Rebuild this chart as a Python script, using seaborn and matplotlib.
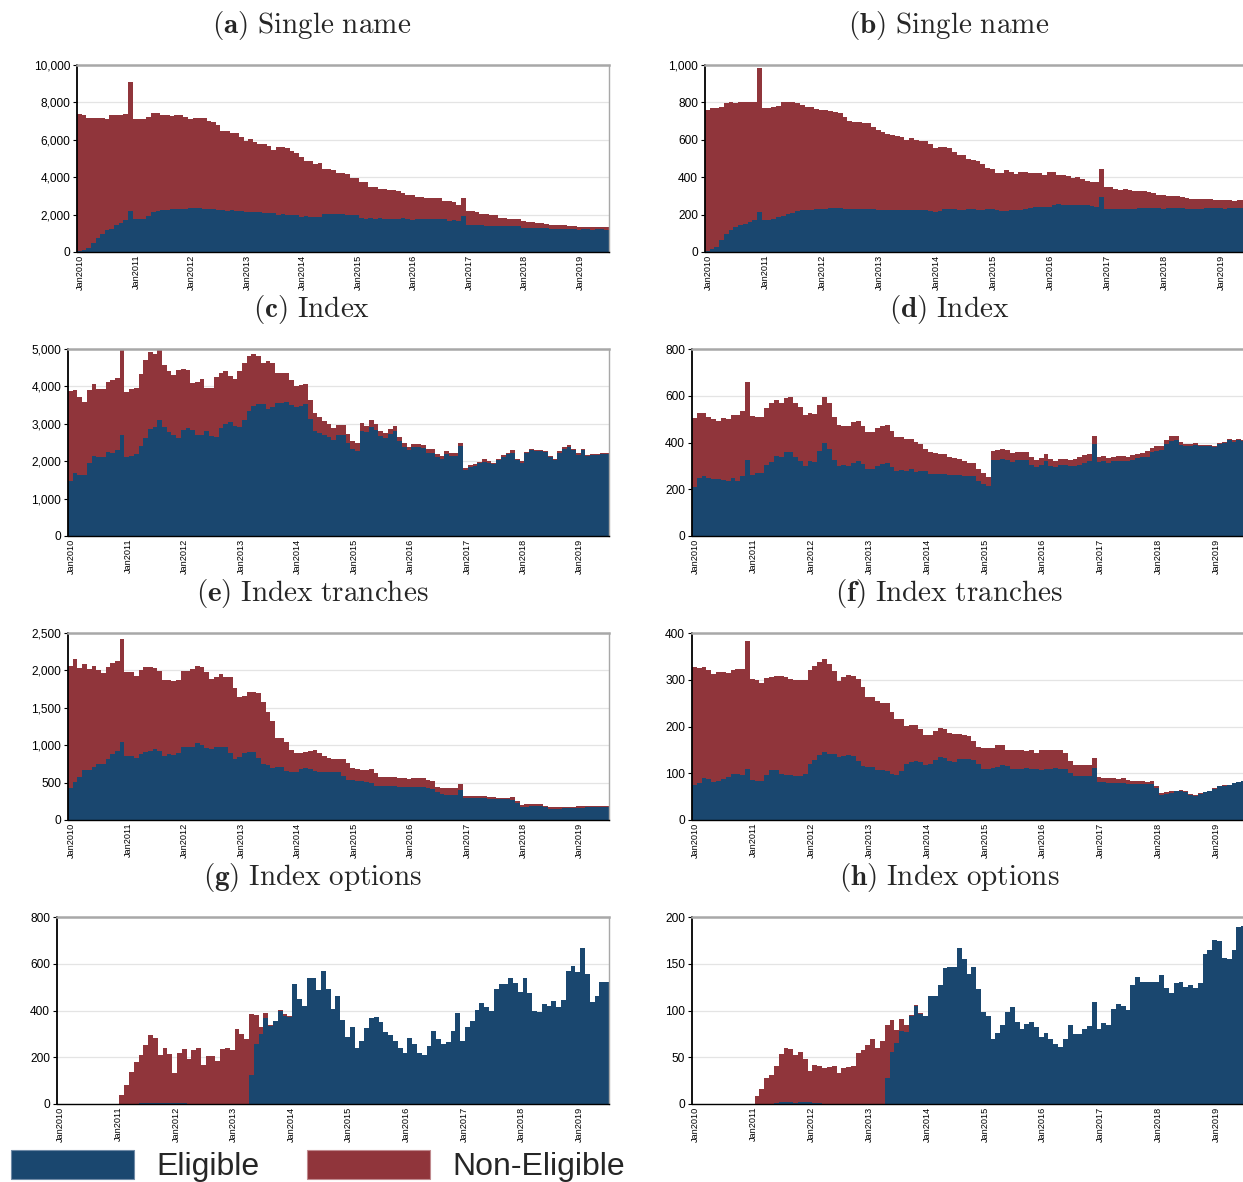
import matplotlib
matplotlib.use("Agg")
import matplotlib.pyplot as plt
import numpy as np
import pandas as pd
import seaborn as sns
from matplotlib.patches import Patch
from matplotlib.ticker import FuncFormatter, MultipleLocator

sns.set_theme(style="white")
plt.rcParams['font.family'] = ['Liberation Sans', 'DejaVu Sans']
plt.rcParams['mathtext.fontset'] = 'cm'

BLUE = '#1a476f'
RED = '#90353b'

months = list(pd.date_range('2010-01-01', periods=115, freq='MS').strftime('%b%Y'))
tick_labels = ['Jan2010', 'Jan2011', 'Jan2012', 'Jan2013', 'Jan2014',
               'Jan2015', 'Jan2016', 'Jan2017', 'Jan2018', 'Jan2019']

# (a) Single name, number of contracts
a_total = [
    7357, 7320, 7180, 7160, 7160, 7140, 7090, 7320, 7320, 7340, 7390, 9100,
    7100, 7100, 7100, 7210, 7430, 7430, 7340, 7340, 7290, 7320, 7320, 7210,
    7090, 7180, 7180, 7140, 7000, 6960, 6770, 6480, 6490, 6340, 6340, 6125,
    5930, 6020, 5890, 5750, 5750, 5680, 5450, 5625, 5600, 5540, 5390, 5300,
    5090, 4860, 4860, 4680, 4770, 4430, 4430, 4410, 4200, 4200, 4180, 3980,
    3980, 3750, 3750, 3460, 3500, 3390, 3390, 3340, 3340, 3250, 3140, 3070,
    3070, 2950, 2950, 2890, 2890, 2875, 2875, 2750, 2710, 2660, 2520, 2875,
    2200, 2200, 2140, 2040, 2040, 1960, 1960, 1840, 1840, 1790, 1770, 1770,
    1660, 1625, 1625, 1550, 1550, 1480, 1450, 1450, 1450, 1450, 1410, 1410,
    1360, 1360, 1360, 1350, 1350, 1340, 1340]
a_elig = [
    35, 90, 215, 480, 770, 980, 1160, 1250, 1430, 1550, 1730, 2200,
    1750, 1750, 1760, 1910, 2125, 2180, 2250, 2270, 2280, 2300, 2310, 2320,
    2330, 2340, 2330, 2320, 2300, 2290, 2220, 2230, 2210, 2220, 2210, 2200,
    2140, 2150, 2130, 2140, 2070, 2080, 2060, 2000, 2010, 2000, 1990, 2000,
    1890, 1900, 1880, 1890, 1890, 2020, 2030, 2010, 2020, 2010, 2000, 1960,
    1960, 1840, 1790, 1800, 1780, 1800, 1790, 1790, 1780, 1790, 1800, 1790,
    1710, 1770, 1760, 1770, 1780, 1770, 1760, 1770, 1680, 1690, 1680, 1910,
    1450, 1460, 1440, 1450, 1390, 1400, 1390, 1375, 1380, 1370, 1375, 1370,
    1300, 1310, 1300, 1270, 1280, 1270, 1230, 1240, 1230, 1230, 1220, 1230,
    1200, 1210, 1210, 1200, 1210, 1210, 1200]

# (b) Single name
b_total = [
    760, 768, 771, 777, 795, 804, 798, 800, 800, 800, 804, 982,
    771, 771, 773, 782, 800, 804, 800, 798, 786, 773, 773, 764,
    759, 757, 753, 748, 741, 723, 698, 696, 696, 688, 688, 670,
    652, 640, 630, 625, 622, 616, 600, 607, 598, 595, 595, 575,
    557, 563, 563, 555, 536, 521, 520, 500, 491, 487, 468, 450,
    446, 425, 425, 436, 429, 418, 429, 429, 425, 423, 423, 414,
    427, 427, 414, 411, 407, 398, 400, 389, 379, 373, 375, 446,
    345, 345, 336, 333, 336, 330, 327, 327, 325, 320, 317, 305,
    305, 302, 300, 297, 293, 290, 285, 283, 283, 283, 282, 280,
    278, 276, 276, 275, 277, 276, 275]
b_elig = [
    4, 18, 27, 62, 95, 120, 134, 143, 148, 161, 170, 214,
    170, 170, 175, 185, 195, 203, 210, 220, 224, 225, 226, 228,
    228, 232, 235, 237, 236, 232, 228, 230, 230, 232, 230, 228,
    226, 226, 225, 224, 225, 224, 226, 223, 222, 224, 222, 220,
    214, 218, 228, 232, 230, 226, 225, 230, 228, 226, 226, 228,
    228, 222, 218, 220, 224, 222, 226, 232, 236, 238, 238, 240,
    242, 250, 255, 252, 250, 250, 252, 252, 250, 245, 243, 295,
    228, 231, 228, 228, 232, 232, 232, 235, 236, 236, 237, 234,
    232, 234, 236, 234, 234, 232, 232, 231, 232, 234, 233, 234,
    234, 232, 234, 234, 234, 236, 238]

# (c) Index
c_total = [
    3885, 3910, 3715, 3580, 3910, 4070, 3930, 3930, 4110, 4180, 4220, 5000,
    3840, 3930, 3970, 4340, 4700, 4930, 4875, 4980, 4580, 4400, 4310, 4450,
    4465, 4450, 4100, 4110, 4200, 3960, 3950, 4250, 4360, 4420, 4290, 4200,
    4420, 4630, 4820, 4870, 4820, 4630, 4670, 4630, 4360, 4360, 4360, 4180,
    4000, 4050, 4070, 3640, 3300, 3180, 3080, 2990, 2900, 2960, 2960, 2730,
    2530, 2480, 3020, 2950, 3110, 3000, 2820, 2750, 2870, 2930, 2640, 2480,
    2375, 2455, 2455, 2440, 2320, 2320, 2200, 2140, 2280, 2230, 2215, 2500,
    1830, 1890, 1930, 1980, 2050, 2000, 1950, 2060, 2170, 2230, 2290, 2060,
    2000, 2240, 2330, 2300, 2300, 2280, 2150, 2060, 2280, 2370, 2420, 2330,
    2215, 2330, 2170, 2200, 2200, 2215, 2210]
c_elig = [
    1475, 1680, 1635, 1635, 1950, 2145, 2125, 2125, 2240, 2230, 2300, 2700,
    2100, 2150, 2200, 2410, 2630, 2860, 2910, 3090, 2910, 2770, 2690, 2620,
    2840, 2880, 2840, 2690, 2690, 2800, 2680, 2660, 2880, 3000, 3060, 2950,
    2910, 3110, 3330, 3465, 3535, 3535, 3400, 3450, 3555, 3555, 3580, 3500,
    3440, 3480, 3535, 3135, 2820, 2750, 2705, 2640, 2570, 2690, 2690, 2500,
    2320, 2260, 2820, 2770, 2910, 2840, 2680, 2630, 2730, 2820, 2530, 2375,
    2290, 2375, 2375, 2350, 2230, 2230, 2110, 2050, 2190, 2150, 2150, 2410,
    1770, 1840, 1880, 1950, 1990, 1960, 1930, 2020, 2125, 2190, 2215, 2020,
    1960, 2215, 2290, 2260, 2260, 2240, 2125, 2040, 2230, 2320, 2375, 2300,
    2170, 2300, 2140, 2170, 2170, 2190, 2190]

# (d) Index
d_total = [
    504, 526, 526, 507, 500, 494, 503, 500, 517, 516, 533, 657,
    514, 511, 510, 549, 569, 583, 569, 590, 594, 571, 551, 519,
    526, 520, 560, 594, 569, 509, 474, 471, 471, 486, 494, 471,
    443, 447, 461, 471, 474, 451, 423, 423, 417, 417, 404, 394,
    371, 361, 354, 352, 352, 340, 333, 329, 319, 312, 312, 287,
    270, 252, 365, 366, 372, 367, 357, 360, 360, 360, 340, 326,
    333, 350, 329, 322, 330, 330, 326, 330, 336, 348, 352, 428,
    338, 342, 333, 340, 343, 343, 340, 348, 352, 355, 362, 376,
    383, 386, 411, 426, 428, 401, 394, 393, 396, 390, 391, 390,
    383, 397, 404, 414, 409, 414, 412]
d_elig = [
    210, 247, 257, 246, 243, 243, 240, 234, 250, 234, 256, 326,
    260, 270, 270, 303, 317, 341, 337, 359, 360, 337, 320, 301,
    320, 317, 363, 396, 371, 323, 301, 304, 301, 311, 319, 309,
    286, 287, 300, 310, 313, 297, 279, 283, 279, 286, 274, 276,
    276, 266, 264, 267, 267, 262, 262, 262, 258, 255, 258, 237,
    223, 213, 323, 323, 329, 326, 316, 323, 323, 323, 305, 295,
    302, 319, 298, 294, 302, 302, 298, 298, 305, 312, 322, 394,
    316, 319, 312, 319, 322, 322, 322, 326, 333, 338, 340, 359,
    365, 367, 393, 407, 409, 390, 387, 386, 390, 383, 387, 387,
    380, 394, 400, 411, 404, 411, 408]

# (e) Index tranches
e_total = [
    2054, 2156, 2031, 2089, 2022, 2054, 2009, 1964, 2040, 2098, 2121, 2424,
    1973, 1973, 1929, 2000, 2040, 2045, 2031, 1991, 1866, 1875, 1853, 1875,
    1987, 1987, 2018, 2063, 2040, 1973, 1888, 1906, 1951, 1906, 1906, 1763,
    1638, 1661, 1710, 1710, 1696, 1576, 1442, 1330, 1094, 1094, 1049, 938,
    902, 893, 915, 924, 938, 893, 857, 826, 817, 817, 813, 759,
    692, 683, 670, 670, 679, 625, 571, 571, 571, 571, 567, 558,
    545, 558, 558, 558, 536, 522, 446, 433, 424, 424, 424, 478,
    326, 326, 326, 321, 326, 304, 304, 295, 299, 295, 304, 254,
    201, 210, 210, 214, 214, 192, 170, 170, 179, 179, 179, 179,
    188, 188, 188, 192, 192, 192, 192]
e_elig = [
    424, 504, 571, 670, 670, 714, 746, 746, 817, 879, 924, 1040,
    862, 862, 826, 879, 906, 924, 951, 929, 857, 879, 871, 893,
    982, 982, 982, 1027, 1004, 960, 951, 982, 982, 982, 893, 813,
    848, 893, 915, 906, 835, 746, 737, 701, 714, 705, 656, 643,
    643, 683, 692, 683, 661, 638, 638, 638, 638, 638, 589, 536,
    536, 522, 522, 513, 491, 455, 455, 455, 455, 451, 446, 446,
    438, 446, 446, 446, 433, 415, 371, 344, 335, 335, 335, 402,
    290, 290, 290, 290, 290, 277, 277, 277, 277, 277, 268, 232,
    179, 179, 183, 183, 183, 170, 147, 147, 152, 156, 161, 165,
    165, 165, 170, 170, 174, 174, 174]

# (f) Index tranches
f_total = [
    327, 326, 327, 320, 313, 316, 316, 314, 320, 323, 324, 382,
    302, 299, 293, 304, 306, 309, 309, 306, 302, 300, 299, 299,
    320, 330, 337, 344, 334, 319, 298, 305, 310, 307, 301, 284,
    263, 263, 254, 251, 250, 230, 216, 216, 202, 203, 203, 194,
    182, 182, 191, 196, 194, 186, 184, 184, 182, 180, 170, 156,
    155, 153, 154, 161, 160, 150, 149, 150, 150, 148, 149, 143,
    149, 149, 149, 149, 149, 143, 127, 118, 118, 117, 117, 132,
    91, 90, 89, 89, 88, 89, 86, 83, 83, 83, 82, 84,
    73, 58, 59, 61, 63, 64, 62, 56, 54, 57, 60, 63,
    68, 73, 74, 75, 80, 82, 84]
f_elig = [
    75, 80, 89, 87, 82, 84, 88, 91, 98, 99, 96, 109,
    86, 84, 84, 96, 107, 107, 99, 96, 96, 95, 95, 99,
    120, 128, 140, 146, 142, 141, 134, 137, 138, 136, 126, 116,
    113, 113, 106, 106, 104, 98, 97, 104, 119, 125, 127, 125,
    118, 120, 128, 134, 133, 126, 125, 130, 131, 130, 128, 120,
    110, 110, 112, 113, 118, 115, 110, 110, 110, 112, 110, 109,
    106, 110, 110, 111, 110, 110, 101, 95, 95, 95, 94, 112,
    82, 81, 80, 80, 80, 79, 77, 77, 77, 77, 76, 76,
    68, 54, 56, 58, 61, 62, 60, 54, 52, 56, 59, 62,
    67, 72, 73, 74, 79, 81, 83]

# (g) Index options
g_total = [
    0, 0, 0, 0, 0, 0, 0, 0, 0, 0, 0, 0,
    0, 38, 81, 138, 180, 208, 251, 294, 282, 211, 241, 216,
    133, 218, 237, 191, 230, 240, 166, 204, 204, 183, 237, 241,
    233, 322, 301, 279, 386, 382, 329, 390, 340, 357, 404, 383,
    378, 514, 449, 421, 540, 539, 486, 571, 490, 406, 464, 361,
    286, 329, 240, 271, 327, 367, 371, 350, 306, 297, 271, 240,
    217, 281, 257, 220, 210, 250, 313, 280, 257, 264, 314, 389,
    269, 331, 354, 403, 433, 414, 396, 493, 514, 513, 539, 519,
    481, 539, 476, 397, 393, 426, 419, 439, 414, 447, 571, 589,
    563, 667, 557, 436, 460, 520, 520]
g_elig = [
    0, 0, 0, 0, 0, 0, 0, 0, 0, 0, 0, 0,
    0, 0, 0, 0, 0, 3, 4, 3, 3, 3, 4, 4,
    4, 4, 3, 0, 0, 0, 0, 0, 0, 0, 0, 0,
    0, 0, 0, 0, 123, 255, 301, 366, 333, 357, 400, 376,
    372, 514, 449, 421, 540, 539, 486, 571, 490, 406, 464, 361,
    286, 329, 240, 271, 327, 367, 371, 350, 306, 297, 271, 240,
    217, 281, 257, 220, 210, 250, 313, 280, 257, 264, 314, 389,
    269, 331, 354, 403, 433, 414, 396, 493, 514, 513, 539, 519,
    481, 539, 476, 397, 393, 426, 419, 439, 414, 447, 571, 589,
    563, 667, 557, 436, 460, 520, 520]

# (h) Index options
h_total = [
    0, 0, 0, 0, 0, 0, 0, 0, 0, 0, 0, 0,
    0, 9, 16, 28, 31, 41, 53, 60, 59, 52, 56, 48,
    35, 42, 41, 38, 40, 41, 33, 39, 40, 41, 55, 58,
    63, 70, 60, 67, 85, 90, 79, 91, 84, 95, 106, 97,
    94, 116, 116, 127, 145, 147, 146, 167, 155, 139, 147, 123,
    98, 94, 70, 76, 85, 98, 104, 88, 80, 86, 88, 82,
    72, 76, 69, 64, 61, 70, 84, 75, 75, 80, 83, 109,
    80, 87, 85, 102, 107, 105, 101, 127, 136, 130, 131, 130,
    130, 138, 124, 119, 129, 130, 125, 127, 124, 129, 160, 165,
    175, 174, 156, 155, 165, 189, 190]
h_elig = [
    0, 0, 0, 0, 0, 0, 0, 0, 0, 0, 0, 0,
    0, 0, 0, 0, 0, 1, 2, 2, 2, 1, 2, 2,
    2, 1, 1, 0, 0, 0, 0, 0, 0, 0, 0, 0,
    0, 0, 0, 0, 28, 56, 65, 78, 77, 94, 105, 96,
    94, 116, 116, 127, 145, 147, 146, 167, 155, 139, 147, 123,
    98, 94, 70, 76, 85, 98, 104, 88, 80, 86, 88, 82,
    72, 76, 69, 64, 61, 70, 84, 75, 75, 80, 83, 109,
    80, 87, 85, 102, 107, 105, 101, 127, 136, 130, 131, 130,
    130, 138, 124, 119, 129, 130, 125, 127, 124, 129, 160, 165,
    175, 174, 156, 155, 165, 189, 190]

titles = [r"$\mathbf{(a)}\ \mathrm{Single\ name}$", r"$\mathbf{(b)}\ \mathrm{Single\ name}$",
          r"$\mathbf{(c)}\ \mathrm{Index}$", r"$\mathbf{(d)}\ \mathrm{Index}$",
          r"$\mathbf{(e)}\ \mathrm{Index\ tranches}$", r"$\mathbf{(f)}\ \mathrm{Index\ tranches}$",
          r"$\mathbf{(g)}\ \mathrm{Index\ options}$", r"$\mathbf{(h)}\ \mathrm{Index\ options}$"]

panels = [
    (a_total, a_elig, 10000, 2000),
    (b_total, b_elig, 1000, 200),
    (c_total, c_elig, 5000, 1000),
    (d_total, d_elig, 800, 200),
    (e_total, e_elig, 2500, 500),
    (f_total, f_elig, 400, 100),
    (g_total, g_elig, 800, 200),
    (h_total, h_elig, 200, 50),
]

for t, e, _, _ in panels:
    assert len(t) == 115 and len(e) == 115, (len(t), len(e))

W, H = 1243, 1182
fig = plt.figure(figsize=(W / 100, H / 100), dpi=100)

# pixel boxes: left, top, width, height
boxes = [
    (77, 65, 532, 187), (705, 65, 546, 187),
    (68, 349, 541, 187), (692, 349, 554, 187),
    (68, 633, 541, 187), (692, 633, 554, 187),
    (57, 917, 552, 187), (692, 917, 554, 187),
]
title_y = [25, 25, 309, 309, 593, 593, 877, 877]
title_x = [312, 949]

fmt = FuncFormatter(lambda v, p: f"{int(round(v)):,}")

for k, ((tot, eli, ymax, step), (l, t, w, h)) in enumerate(zip(panels, boxes)):
    ax = fig.add_axes([l / W, 1 - (t + h) / H, w / W, h / H])
    df = pd.DataFrame({'month': months, 'total': tot, 'eligible': eli})
    sns.barplot(data=df, x='month', y='total', order=months, color=RED,
                width=1.0, saturation=1, errorbar=None, linewidth=0,
                edgecolor='none', ax=ax)
    sns.barplot(data=df, x='month', y='eligible', order=months, color=BLUE,
                width=1.0, saturation=1, errorbar=None, linewidth=0,
                edgecolor='none', ax=ax)
    ax.set_xlim(-0.5, 114.5)
    ax.set_ylim(0, ymax)
    ax.yaxis.set_major_locator(MultipleLocator(step))
    ax.yaxis.set_major_formatter(fmt)
    ax.set_xticks(np.arange(0, 115, 12) + 0.3)
    ax.set_xticklabels(tick_labels, rotation=90, fontsize=6.6)
    ax.set_xlabel('')
    ax.set_ylabel('')
    ax.grid(axis='y', color='#e4e4e4', linewidth=0.9)
    ax.grid(axis='x', visible=False)
    ax.set_axisbelow(True)
    ax.tick_params(axis='y', labelsize=8.6, length=3, width=0.8, pad=2,
                   left=True, colors='black')
    ax.tick_params(axis='x', length=0, pad=2, bottom=True, colors='black')
    ax.spines['left'].set_color('black')
    ax.spines['left'].set_linewidth(1.3)
    ax.spines['bottom'].set_color('black')
    ax.spines['bottom'].set_linewidth(1.0)
    ax.spines['top'].set_color('#a8a8a8')
    ax.spines['top'].set_linewidth(1.8)
    ax.spines['right'].set_color('#a8a8a8')
    ax.spines['right'].set_linewidth(1.0)
    for s in ax.spines.values():
        s.set_visible(True)
    fig.text(title_x[k % 2] / W, 1 - title_y[k] / H, titles[k],
             ha='center', va='center', fontsize=21)

handles = [Patch(facecolor=BLUE, edgecolor='#6f8aa6', linewidth=0.8),
           Patch(facecolor=RED, edgecolor='#c08a8e', linewidth=0.8)]
fig.legend(handles, ['Eligible', 'Non-Eligible'], loc='lower left',
           bbox_to_anchor=(9 / W, -2.0 / H), ncol=2, frameon=False,
           fontsize=23, handlelength=3.85, handleheight=1.05,
           handletextpad=0.7, columnspacing=1.5, borderpad=0.0,
           borderaxespad=0.05)

fig.savefig('out.png', dpi=100)
